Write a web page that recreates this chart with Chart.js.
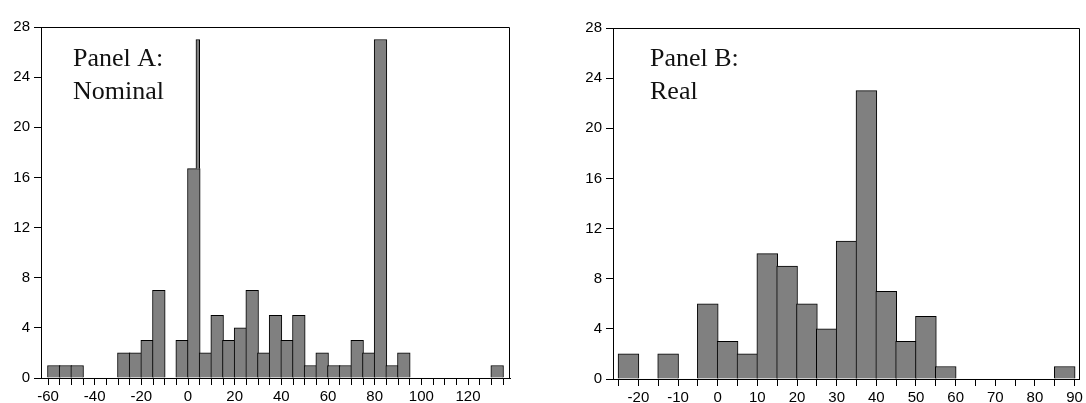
<!DOCTYPE html>
<html>
<head>
<meta charset="utf-8">
<script src="https://cdn.jsdelivr.net/npm/chart.js@4.4.0/dist/chart.umd.min.js"></script>
<style>
  html, body { margin: 0; padding: 0; background: #fff; }
  .panel { position: absolute; top: 0; height: 403px; }
  #boxA { left: 0; width: 540px; }
  #boxB { left: 545px; width: 541px; }
</style>
</head>
<body>
<div class="panel" id="boxA"><canvas id="chartA"></canvas></div>
<div class="panel" id="boxB"><canvas id="chartB"></canvas></div>
<script>
// bin width of both histograms
const binWidth = 5;

// Panel A: nominal (left edges of bins and their counts)
const binsA = [-60, -55, -50, -45, -40, -35, -30, -25, -20, -15, -10, -5, 0, 5, 10, 15, 20,
               25, 30, 35, 40, 45, 50, 55, 60, 65, 70, 75, 80, 85, 90, 95, 100, 105, 110,
               115, 120, 125, 130];
const countsA = [1, 1, 1, 0, 0, 0, 2, 2, 3, 7, 0, 3, 16.7, 2, 5, 3, 4,
                 7, 2, 5, 3, 5, 1, 2, 1, 1, 3, 2, 27, 1, 2, 0, 0, 0, 0,
                 0, 0, 0, 1];
// the thin spike sitting on the right part of the 0-5 bin
const spikeA = { from: 3.4, to: 5, base: 16.7, top: 27 };
const xLabelsA = [-60, -40, -20, 0, 20, 40, 60, 80, 100, 120];
const xRangeA = [-63, 138];

// Panel B: real
const binsB = [-25, -20, -15, -10, -5, 0, 5, 10, 15, 20, 25, 30, 35, 40, 45, 50, 55,
               60, 65, 70, 75, 80, 85];
const countsB = [2, 0, 2, 0, 6, 3, 2, 10, 9, 6, 4, 11, 23, 7, 3, 5, 1,
                 0, 0, 0, 0, 0, 1];
const xLabelsB = [-20, -10, 0, 10, 20, 30, 40, 50, 60, 70, 80, 90];
const xRangeB = [-26.4, 91.3];

const yTicks = [0, 4, 8, 12, 16, 20, 24, 28];

const tickFont = { family: '"Liberation Sans", Arial, sans-serif', size: 15 };

// width in pixels of a span of x values
function spanPx(chart, a, b) {
    const x = chart.scales.x;
    if (!x || !isFinite(x.getPixelForValue(a))) return undefined;
    return Math.abs(x.getPixelForValue(b) - x.getPixelForValue(a));
}

// top/right frame lines plus the panel caption
const framePlugin = {
    id: 'frame',
    afterDraw(chart, args, opts) {
        const { ctx, chartArea: a } = chart;
        const l = Math.round(a.left) + 0.5, r = Math.round(a.right) - 0.5, t = Math.round(a.top) + 0.5;
        ctx.save();
        ctx.strokeStyle = '#000';
        ctx.lineWidth = 1;
        ctx.beginPath();
        ctx.moveTo(l, t);
        ctx.lineTo(r, t);
        ctx.lineTo(r, Math.round(a.bottom));
        ctx.stroke();
        ctx.font = '26px "Liberation Serif", "Times New Roman", serif';
        ctx.fillStyle = '#111';
        ctx.textBaseline = 'alphabetic';
        opts.lines.forEach((txt, i) => ctx.fillText(txt, a.left + opts.dx, a.top + opts.dy + i * 33));
        ctx.restore();
    }
};

function makeHistogram(canvasId, bins, counts, extra, xLabels, xRange, pad, caption) {
    const datasets = [];
    if (extra) {
        datasets.push({
            data: [{ x: (extra.from + extra.to) / 2, y: [extra.base, extra.top] }],
            backgroundColor: '#808080',
            borderColor: '#000',
            borderWidth: 1,
            grouped: false,
            barThickness: (c) => spanPx(c.chart, extra.from, extra.to)
        });
    }
    datasets.push({
        data: bins.map((b, i) => ({ x: b + binWidth / 2, y: counts[i] })),
        backgroundColor: '#808080',
        borderColor: '#000',
        borderWidth: 1,
        grouped: false,
        barThickness: (c) => {
            const w = spanPx(c.chart, 0, binWidth);
            return w === undefined ? undefined : w + 1;
        }
    });

    return new Chart(document.getElementById(canvasId), {
        type: 'bar',
        data: { datasets: datasets },
        options: {
            responsive: true,
            maintainAspectRatio: false,
            animation: false,
            layout: { padding: pad.layout },
            plugins: {
                legend: { display: false },
                tooltip: { enabled: false },
                frame: caption
            },
            scales: {
                x: {
                    type: 'linear',
                    min: xRange[0],
                    max: xRange[1],
                    offset: false,
                    afterFit: (s) => { s.height = pad.xHeight; },
                    grid: { offset: false, drawOnChartArea: false, drawTicks: true, tickLength: 7, color: '#000' },
                    border: { display: true, color: '#000', width: 1 },
                    ticks: {
                        stepSize: binWidth,
                        includeBounds: false,
                        autoSkip: false,
                        maxRotation: 0,
                        minRotation: 0,
                        padding: 3,
                        color: '#000',
                        font: tickFont,
                        callback: (v) => xLabels.includes(v) ? v : ''
                    }
                },
                y: {
                    min: yTicks[0],
                    max: yTicks[yTicks.length - 1],
                    afterFit: (s) => { s.width = pad.yWidth; },
                    afterBuildTicks: (s) => { s.ticks = yTicks.map(v => ({ value: v })); },
                    grid: { drawOnChartArea: false, drawTicks: true, tickLength: 7, color: '#000' },
                    border: { display: true, color: '#000', width: 1 },
                    ticks: { padding: 4, color: '#000', font: tickFont }
                }
            }
        },
        plugins: [framePlugin]
    });
}

makeHistogram('chartA', binsA, countsA, spikeA, xLabelsA, xRangeA,
    { layout: { left: 0, top: 27, right: 30, bottom: 0 }, xHeight: 25, yWidth: 41 },
    { lines: ['Panel A:', 'Nominal'], dx: 32, dy: 39 });

makeHistogram('chartB', binsB, countsB, null, xLabelsB, xRangeB,
    { layout: { left: 27, top: 28, right: 4, bottom: 0 }, xHeight: 24, yWidth: 41 },
    { lines: ['Panel B:', 'Real'], dx: 37, dy: 38 });
</script>
</body>
</html>
